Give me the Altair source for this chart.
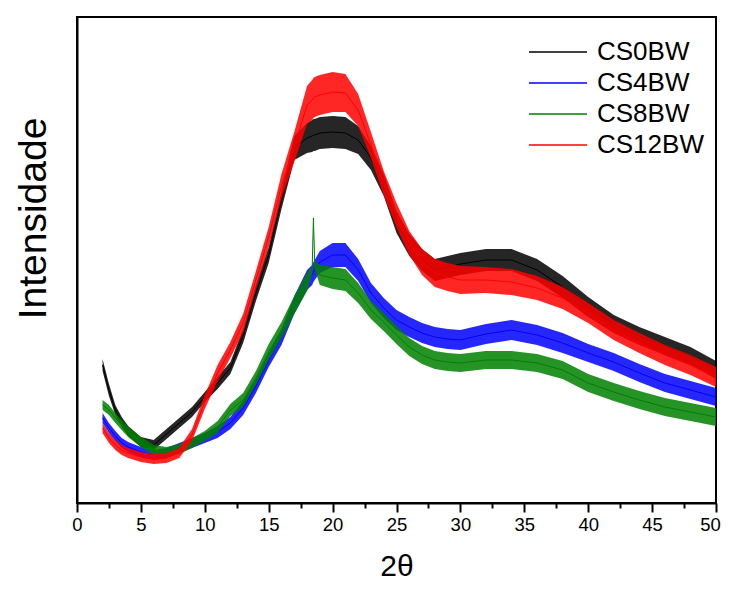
import altair as alt
import pandas as pd

# 2-theta sample positions (degrees)
two_theta = [2, 2.5, 3, 3.5, 4, 5, 6, 7, 8, 9, 10, 11, 12, 13, 14, 15, 16, 17, 18,
             18.4, 18.5, 18.6, 19, 20, 21, 22, 23, 24, 25, 26, 27, 28, 29, 30,
             32, 34, 36, 38, 40, 42, 44, 46, 48, 50]

series_names = ["CS0BW", "CS4BW", "CS8BW", "CS12BW"]
series_colors = ["#000000", "#0000ff", "#008000", "#ff0000"]

# intensity (arbitrary units)
cs0bw = [135, 110, 90, 78, 69, 58, 55, 66, 77, 88, 103, 117, 132, 164, 207, 245, 300, 352, 362,
         364, 365, 365, 367, 368, 367, 360, 342, 315, 278, 255, 240, 230, 233, 236,
         240, 240, 230, 213, 193, 176, 164, 154, 144, 130]
cs4bw = [82, 72, 64, 57, 53, 48, 45, 47, 52, 57, 62, 68, 77, 92, 114, 140, 163, 195, 220,
         225, 228, 230, 238, 245, 245, 230, 207, 192, 180, 173, 167, 163, 161, 160,
         166, 170, 165, 157, 147, 138, 127, 117, 110, 103]
cs8bw = [95, 90, 82, 75, 68, 58, 50, 48, 51, 57, 64, 73, 90, 100, 122, 148, 170, 195, 218,
         230, 282, 235, 225, 222, 220, 207, 190, 178, 165, 153, 145, 140, 138, 137,
         140, 140, 137, 130, 117, 108, 100, 93, 88, 83]
cs12bw = [72, 62, 55, 50, 47, 43, 41, 42, 47, 65, 98, 127, 150, 177, 220, 263, 314, 353, 395,
          400, 402, 403, 405, 408, 407, 390, 355, 317, 285, 257, 238, 227, 223, 220,
          220, 218, 212, 202, 187, 170, 157, 145, 135, 123]

# half-width of the noise ribbon around each curve
cs0bw_noise = [6, 6, 5, 5, 5, 5, 5, 5, 5, 5, 5, 6, 6, 7, 8, 8, 9, 12, 15,
               16, 16, 16, 16, 16, 16, 14, 12, 11, 11, 11, 11, 11, 11, 11,
               11, 11, 11, 11, 10, 9, 9, 9, 9, 9]
cs4bw_noise = [5, 5, 5, 5, 5, 5, 5, 5, 5, 5, 5, 6, 6, 7, 7, 7, 8, 9, 10,
               10, 10, 10, 11, 12, 12, 11, 10, 10, 10, 10, 10, 10, 10, 10,
               10, 10, 10, 10, 9, 9, 9, 9, 9, 9]
cs8bw_noise = [5, 5, 5, 5, 5, 5, 5, 5, 5, 5, 5, 6, 6, 7, 7, 8, 8, 9, 9,
               4, 3, 4, 10, 11, 11, 10, 9, 9, 9, 9, 9, 9, 9, 9,
               9, 9, 9, 9, 9, 9, 9, 9, 9, 9]
cs12bw_noise = [5, 5, 5, 5, 5, 5, 5, 5, 5, 6, 7, 8, 8, 9, 9, 10, 12, 15, 19,
                20, 20, 20, 20, 20, 19, 16, 13, 12, 12, 12, 13, 14, 14, 14,
                13, 13, 12, 11, 10, 10, 10, 10, 10, 10]

major_ticks = [0, 5, 10, 15, 20, 25, 30, 35, 40, 45, 50]
minor_ticks = [2.5, 7.5, 12.5, 17.5, 22.5, 27.5, 32.5, 37.5, 42.5, 47.5]

# legend layout (pixels inside the plot area)
legend_rows_y = [35, 66, 97, 128]
legend_line_x = (452, 510)
legend_text_x = 520

rows = []
for name, vals, noise in zip(series_names, [cs0bw, cs4bw, cs8bw, cs12bw],
                             [cs0bw_noise, cs4bw_noise, cs8bw_noise, cs12bw_noise]):
    for x, v, h in zip(two_theta, vals, noise):
        rows.append({"x": x, "y": v, "lo": v - h, "hi": v + h, "s": name})
df = pd.DataFrame(rows)

FONT = "Liberation Sans"

xscale = alt.Scale(domain=[0, 50], nice=False)
yscale = alt.Scale(domain=[-3, 483], nice=False, zero=False)

xaxis = alt.Axis(
    orient="bottom",
    values=major_ticks,
    tickSize=9, tickWidth=2, tickColor="black",
    domainWidth=2, domainColor="black",
    labelFont=FONT, labelFontSize=18.5, labelColor="black", labelPadding=3,
    labelOffset={"condition": {"test": "datum.value === 50", "value": -6}, "value": 0},
    labelFlush=False, labelOverlap=False, grid=False,
    title="2θ", titleFont=FONT, titleFontSize=30, titleFontWeight="normal",
    titleColor="black", titleBaseline="alphabetic", titleY=72,
)
xaxis_minor = alt.Axis(
    orient="bottom",
    values=minor_ticks,
    tickSize=5, tickWidth=2, tickColor="black",
    domain=False, labels=False, grid=False, title=None,
)
yaxis = alt.Axis(
    labels=False, ticks=False, grid=False,
    domainWidth=2, domainColor="black",
    title="Intensidade", titleFont=FONT, titleFontSize=39, titleFontWeight="normal",
    titleColor="black", titleBaseline="alphabetic", titleX=-32, titleY=201,
)

color_scale = alt.Scale(domain=series_names, range=series_colors)

layers = []
for name in series_names:
    base = alt.Chart(df).transform_filter(alt.datum.s == name)
    band = base.mark_area(opacity=0.85).encode(
        x=alt.X("x:Q", scale=xscale, axis=xaxis),
        y=alt.Y("lo:Q", scale=yscale, axis=yaxis),
        y2="hi:Q",
        fill=alt.Fill("s:N", scale=color_scale, legend=None),
    )
    line = base.mark_line(strokeWidth=1).encode(
        x=alt.X("x:Q", scale=xscale, axis=xaxis),
        y=alt.Y("y:Q", scale=yscale, axis=yaxis),
        stroke=alt.Stroke("s:N", scale=color_scale, legend=None),
    )
    layers += [band, line]

main = alt.layer(*layers)

minor = alt.Chart(df).transform_filter(alt.datum.s == "CS0BW").mark_line(opacity=0).encode(
    x=alt.X("x:Q", scale=xscale, axis=xaxis_minor),
    y=alt.Y("y:Q", scale=yscale, axis=yaxis),
)

# manual legend
legend_layers = []
for name, color, ry in zip(series_names, series_colors, legend_rows_y):
    ldf = pd.DataFrame({"s": [name]})
    legend_layers.append(
        alt.Chart(ldf).mark_rule(color=color, strokeWidth=1.5).encode(
            x=alt.value(legend_line_x[0]), x2=alt.value(legend_line_x[1]), y=alt.value(ry)
        )
    )
    legend_layers.append(
        alt.Chart(ldf).mark_text(
            align="left", baseline="middle", font=FONT, fontSize=26, color="black"
        ).encode(x=alt.value(legend_text_x), y=alt.value(ry), text="s:N")
    )

chart = alt.layer(main, minor, *legend_layers).resolve_axis(x="independent").properties(
    width=639, height=486,
    padding={"left": 69, "top": 9, "right": 5, "bottom": 79},
    autosize=alt.AutoSizeParams(type="none"),
    background="white",
).configure_view(stroke="black", strokeWidth=2)

chart.save("out.html", embed_options={"renderer": "svg", "actions": False})
